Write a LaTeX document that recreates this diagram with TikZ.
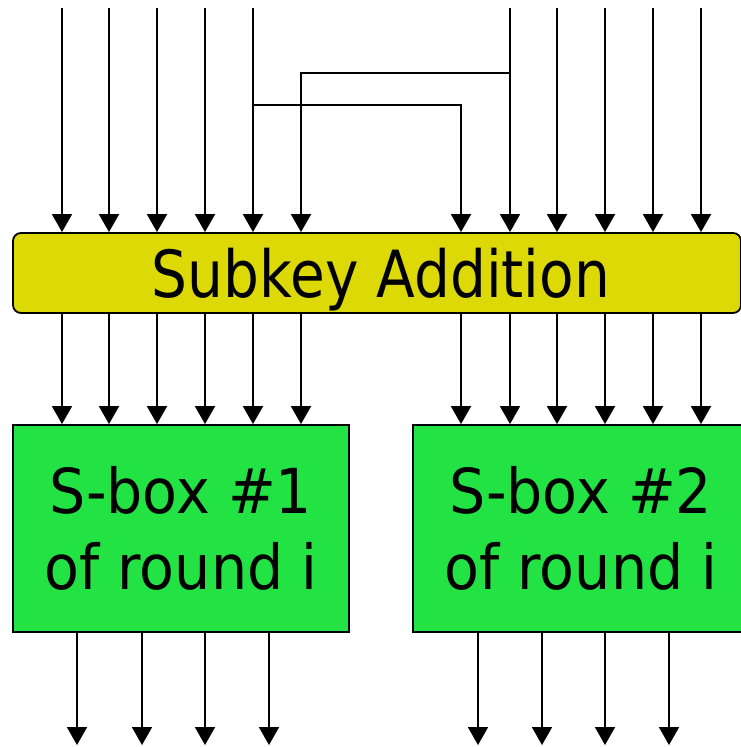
\documentclass[tikz,border=0pt]{standalone}
\usepackage{fontspec}
\setmainfont{DejaVu Sans}[FakeStretch=0.87]
\newfontfamily\sboxfont{DejaVu Sans}[FakeStretch=0.92]
\usetikzlibrary{arrows.meta}

\definecolor{keyyellow}{RGB}{221,217,6}
\definecolor{sboxgreen}{RGB}{34,226,68}

\tikzset{
  wire/.style={line width=1.8pt, -{Triangle[width=20pt,length=18pt]}},
  keybox/.style={draw, line width=1.8pt, fill=keyyellow, rounded corners=8pt,
    minimum width=728pt, minimum height=80pt, inner sep=0pt,
    font=\fontsize{65}{78}\selectfont},
  sbox/.style={draw, line width=1.8pt, fill=sboxgreen,
    minimum width=336pt, minimum height=207pt, inner sep=0pt, align=center,
    font=\sboxfont\fontsize{62}{75.5}\selectfont},
}

\begin{document}
\begin{tikzpicture}[x=1pt, y=-1pt]
  \useasboundingbox (0,0) rectangle (741,747);

  % round function blocks
  \node[keybox] (add) at (377,273)
    {\hspace{8pt}\raisebox{-7pt}[\height][\depth]{Subkey Addition}};
  \node[sbox] (sb1) at (181,528.5) {S-box \#1\\of round i};
  \node[sbox] (sb2) at (581,528.5) {S-box \#2\\of round i};

  % input wires entering from the top
  \foreach \i/\x in {1/62,2/109,3/157,4/205,5/253,7/510,8/557,9/605,10/653,11/701}
    \coordinate (in\i) at (\x,8);
  % crossed wires: bit 5 also feeds position 7, bit 7 also feeds position 6
  \coordinate (jA) at (253,105);
  \coordinate (jB) at (510,73);

  \foreach \i in {1,2,3,4,5}
    \draw[wire] (in\i) -- (in\i |- add.north);
  \foreach \i in {7,8,9,10,11}
    \draw[wire] (in\i) -- (in\i |- add.north);
  \draw[wire] (jA) -| (add.north -| 461,0);
  \draw[wire] (jB) -| (add.north -| 301,0);

  % wires from subkey addition to the S-boxes
  \foreach \x in {62,109,157,205,253,301}
    \draw[wire] (add.south -| \x,0) -- (sb1.north -| \x,0);
  \foreach \x in {461,510,557,605,653,701}
    \draw[wire] (add.south -| \x,0) -- (sb2.north -| \x,0);

  % S-box outputs
  \foreach \i/\x in {1/77,2/142,3/205,4/269,5/478,6/542,7/605,8/669}
    \coordinate (out\i) at (\x,745);
  \foreach \i in {1,2,3,4}
    \draw[wire] (sb1.south -| out\i) -- (out\i);
  \foreach \i in {5,6,7,8}
    \draw[wire] (sb2.south -| out\i) -- (out\i);
\end{tikzpicture}
\end{document}
